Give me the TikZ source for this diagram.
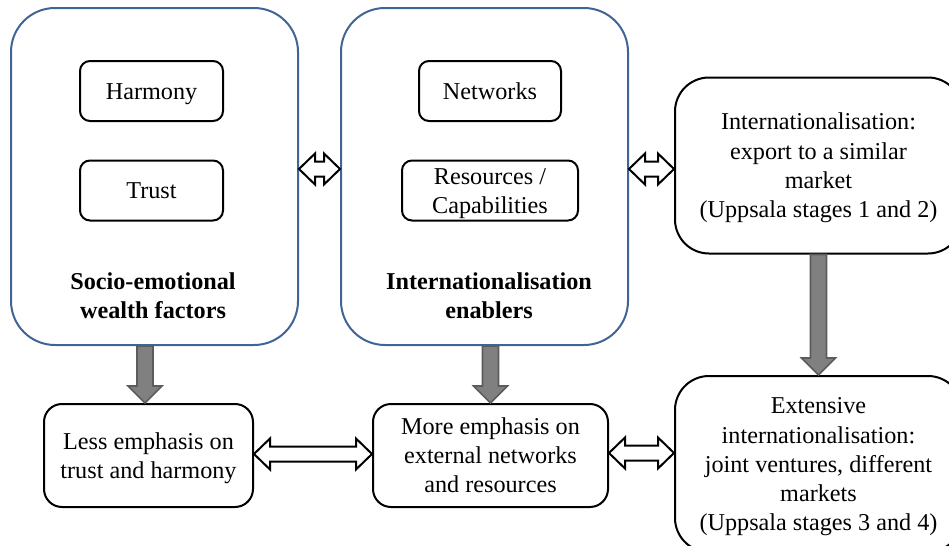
\documentclass[tikz,border=0pt]{standalone}
\usepackage{fontspec}
\setmainfont{Liberation Serif}
\usetikzlibrary{calc}
\definecolor{frameblue}{RGB}{63,100,150}
\definecolor{arrowfill}{RGB}{128,128,128}
\definecolor{arrowedge}{RGB}{92,92,92}
% line strut: fixes every text line to the same height and depth
\newcommand\linestrut{\rule[-3.2pt]{0pt}{14.6pt}}
\newcommand\nl{\\\linestrut}
\begin{document}
\begin{tikzpicture}[x=0.5pt,y=-0.5pt,
  font=\fontsize{12.1}{14.6}\selectfont,
  groupbox/.style={draw=frameblue, line width=1pt, rounded corners=22pt,
    minimum width=143.5pt, minimum height=168.5pt, inner sep=0pt},
  itembox/.style={draw, line width=1pt, rounded corners=5pt, inner sep=0pt,
    align=center, minimum height=30pt},
  effectbox/.style={draw, line width=1pt, rounded corners=9pt, inner sep=0pt,
    align=center, minimum height=51.5pt},
  stagebox/.style={draw, line width=1pt, rounded corners=17pt, inner sep=0pt,
    align=center, minimum width=143.5pt, minimum height=88pt},
  grouplabel/.style={font=\fontsize{12.1}{14.6}\selectfont\bfseries, align=center, inner sep=0pt},
  twoway/.style={draw, line width=1pt, fill=white, line join=miter,
    to path={let \p1=(\tikztostart), \p2=(\tikztotarget) in
      (\p1) -- (\x1+8pt,\y1+7.75pt) -- (\x1+8pt,\y1+3.75pt)
      -- (\x2-8pt,\y1+3.75pt) -- (\x2-8pt,\y1+7.75pt) -- (\x2,\y1)
      -- (\x2-8pt,\y1-7.75pt) -- (\x2-8pt,\y1-3.75pt)
      -- (\x1+8pt,\y1-3.75pt) -- (\x1+8pt,\y1-7.75pt) -- cycle}},
  downarrow/.style={draw=arrowedge, fill=arrowfill, line width=0.8pt, line join=miter,
    to path={let \p1=(\tikztostart), \p2=(\tikztotarget) in
      (\x1-4pt,\y1) -- (\x1-4pt,\y2+8.5pt) -- (\x1-8.5pt,\y2+8.5pt) -- (\x1,\y2)
      -- (\x1+8.5pt,\y2+8.5pt) -- (\x1+4pt,\y2+8.5pt) -- (\x1+4pt,\y1) -- cycle}}]

\useasboundingbox (0,0) rectangle (949,546);
\clip (0,0) rectangle (949,546);

% left group: socio-emotional wealth
\node[groupbox] (sew) at (154.5,176.5) {};
\node[itembox, minimum width=71.5pt] (harmony) at (151.5,91) {\linestrut Harmony};
\node[itembox, minimum width=71.5pt] (trust) at (151.5,190.5) {\linestrut Trust};
\node[grouplabel] (sewlabel) at (153,296) {\linestrut Socio-emotional\nl wealth factors};

% middle group: enablers
\node[groupbox] (enab) at (484.5,176.5) {};
\node[itembox, minimum width=71pt] (networks) at (490,91) {\linestrut Networks};
\node[itembox, minimum width=88pt] (resources) at (490,190.5) {\linestrut Resources /\nl Capabilities};
\node[grouplabel] (enablabel) at (489,296) {\linestrut Internationalisation\nl enablers};

% internationalisation stages
\node[stagebox] (stageA) at (818.5,165.5) {\linestrut Internationalisation:\nl export to a similar\nl market\nl (Uppsala stages 1 and 2)};
\node[stagebox] (stageB) at (818.5,464) {\linestrut Extensive\nl internationalisation:\nl joint ventures, different\nl markets\nl (Uppsala stages 3 and 4)};

% outcomes
\node[effectbox, minimum width=104.5pt] (less) at (148.5,455.5) {\linestrut Less emphasis on\nl trust and harmony};
\node[effectbox, minimum width=117.5pt] (more) at (490.5,455.5) {\linestrut More emphasis on\nl external networks\nl and resources};

% two-way links
\draw[twoway] ([yshift=3.75pt]sew.east) to ([yshift=3.75pt]enab.west);
\draw[twoway] ([yshift=3.75pt]enab.east) to (stageA.west);
\draw[twoway] ([yshift=0.75pt]less.east) to (more.west);
\draw[twoway] ([yshift=1.25pt]more.east) to (stageB.west);

% downward flows
\draw[downarrow] ([xshift=-1.75pt]sew.south -| less.north) to ([xshift=-1.75pt]less.north);
\draw[downarrow] (enab.south -| more.north) to (more.north);
\draw[downarrow] (stageA.south) to (stageB.north);
\end{tikzpicture}
\end{document}
